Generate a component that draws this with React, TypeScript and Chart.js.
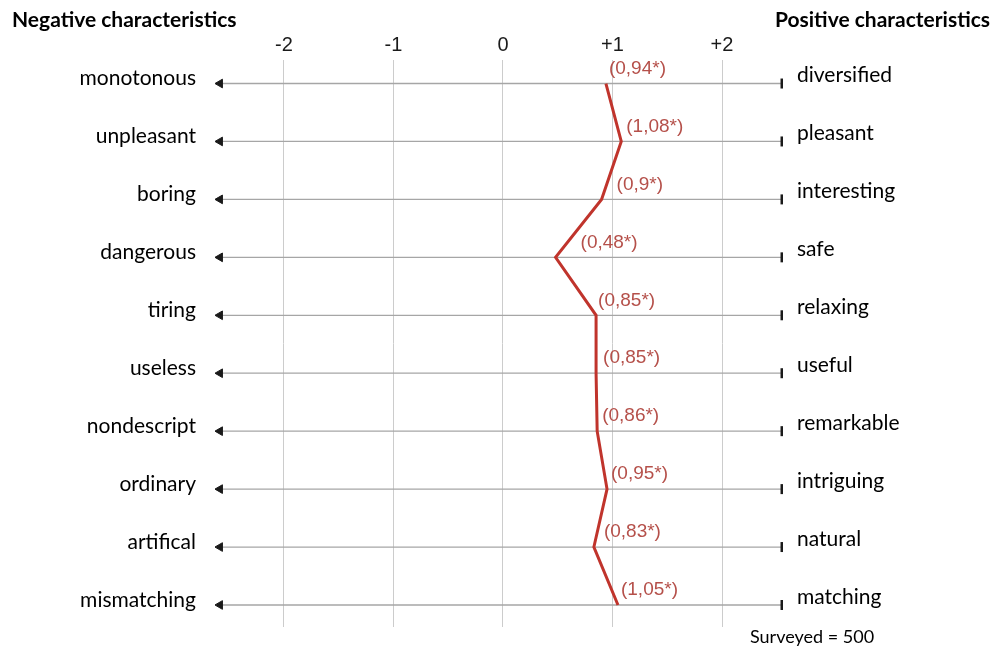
import { useEffect, useRef } from 'react';
import { Chart, registerables } from 'chart.js';

Chart.register(...registerables);

// ---------- data ----------
const negativeLabels = ['monotonous', 'unpleasant', 'boring', 'dangerous', 'tiring', 'useless', 'nondescript', 'ordinary', 'artifical', 'mismatching'];
const positiveLabels = ['diversified', 'pleasant', 'interesting', 'safe', 'relaxing', 'useful', 'remarkable', 'intriguing', 'natural', 'matching'];
const meanValues = [0.94, 1.08, 0.9, 0.48, 0.85, 0.85, 0.86, 0.95, 0.83, 1.05];
const valueLabels = ['(0,94*)', '(1,08*)', '(0,9*)', '(0,48*)', '(0,85*)', '(0,85*)', '(0,86*)', '(0,95*)', '(0,83*)', '(1,05*)'];
const scaleTicks = [-2, -1, 0, 1, 2];
const scaleTickLabels = ['-2', '-1', '0', '+1', '+2'];
const leftTitle = 'Negative characteristics';
const rightTitle = 'Positive characteristics';
const footnote = 'Surveyed = 500';

// ---------- layout (not data) ----------
const X_MIN = -2.63;
const X_MAX = 2.557;
const ARROW_X = -2.585;
const END_X = 2.548;
const Y_MIN = -0.406;
const Y_MAX = 9.38;
const LEFT_LABEL_SHIFT = 0.086;
const RIGHT_LABEL_SHIFT = 0.138;
const labelDx = [3, 5, 15, 25, 2, 7, 5, 4, 10, 3];
const labelDy = -15;

const rowIdx = negativeLabels.map((_, i) => i);

const annotationPlugin = {
  id: 'annotations',
  afterDatasetsDraw(chart: any) {
    const ctx = chart.ctx;
    const meta = chart.getDatasetMeta(0);
    ctx.save();
    ctx.font = '19px "Liberation Sans", Arial, sans-serif';
    ctx.fillStyle = '#b5504a';
    ctx.textAlign = 'left';
    ctx.textBaseline = 'middle';
    meta.data.forEach((pt: any, i: number) => {
      ctx.fillText(valueLabels[i], pt.x + labelDx[i], pt.y + labelDy);
    });
    ctx.restore();
  },
  afterDraw(chart: any) {
    const ctx = chart.ctx;
    ctx.save();
    ctx.fillStyle = '#000';
    ctx.textBaseline = 'middle';
    ctx.font = 'bold 21px Lato, "Noto Sans", sans-serif';
    ctx.textAlign = 'left';
    ctx.fillText(leftTitle, 12, 20);
    ctx.textAlign = 'right';
    ctx.fillText(rightTitle, 990, 20);
    ctx.font = '18px Lato, "Noto Sans", sans-serif';
    ctx.textAlign = 'left';
    ctx.fillText(footnote, 750, 637);
    ctx.restore();
  },
};

export default function App() {
  const canvasRef = useRef<HTMLCanvasElement | null>(null);

  useEffect(() => {
    document.body.style.margin = '0';
    const canvas = canvasRef.current;
    if (!canvas) return;

    const rowDatasets = rowIdx.map((i) => ({
      data: [
        { x: ARROW_X, y: i },
        { x: END_X, y: i },
      ],
      borderColor: '#a6a6a6',
      borderWidth: 1.3,
      pointStyle: ['triangle', 'line'],
      rotation: [-90, 90],
      pointRadius: [5, 5],
      pointBorderWidth: [1, 3],
      pointBackgroundColor: '#1a1a1a',
      pointBorderColor: '#1a1a1a',
      tension: 0,
      yAxisID: 'y',
    }));

    const fitLabelAxis = (width: number) => (axis: any) => {
      axis.width = width;
      axis.paddingTop = 0;
      axis.paddingBottom = 0;
    };

    const chart = new Chart(canvas, {
      type: 'line',
      data: {
        datasets: [
          {
            data: meanValues.map((v, i) => ({ x: v, y: i })),
            borderColor: '#c0342c',
            borderWidth: 3,
            pointRadius: 0,
            tension: 0,
            yAxisID: 'y',
          },
          ...rowDatasets,
        ] as any,
      },
      options: {
        animation: false,
        responsive: false,
        maintainAspectRatio: false,
        layout: { padding: { left: 0, right: 0, top: 0, bottom: 26 } },
        plugins: {
          legend: { display: false },
          tooltip: { enabled: false },
          title: { display: false },
        },
        scales: {
          x: {
            type: 'linear',
            position: 'top',
            min: X_MIN,
            max: X_MAX,
            afterBuildTicks: (axis: any) => {
              axis.ticks = scaleTicks.map((v) => ({ value: v }));
            },
            afterFit: (axis: any) => {
              axis.height = 60;
            },
            border: { display: false },
            grid: { color: '#cccccc', lineWidth: 1, drawTicks: false },
            ticks: {
              padding: 3,
              color: '#1a1a1a',
              font: { family: '"Liberation Sans", Arial, sans-serif', size: 20 },
              callback: (v: any) => {
                const k = scaleTicks.indexOf(Number(v));
                return k >= 0 ? scaleTickLabels[k] : '';
              },
            },
          },
          y: {
            type: 'linear',
            display: false,
            reverse: true,
            min: Y_MIN,
            max: Y_MAX,
          },
          yL: {
            type: 'linear',
            position: 'left',
            reverse: true,
            min: Y_MIN + LEFT_LABEL_SHIFT,
            max: Y_MAX + LEFT_LABEL_SHIFT,
            afterBuildTicks: (axis: any) => {
              axis.ticks = rowIdx.map((v) => ({ value: v }));
            },
            afterFit: fitLabelAxis(215),
            border: { display: false },
            grid: { display: false, drawTicks: false },
            ticks: {
              padding: 19,
              color: '#000',
              font: { family: 'Lato, "Noto Sans", sans-serif', size: 21 },
              callback: (v: any) => negativeLabels[Number(v)] ?? '',
            },
          },
          yR: {
            type: 'linear',
            position: 'right',
            reverse: true,
            min: Y_MIN + RIGHT_LABEL_SHIFT,
            max: Y_MAX + RIGHT_LABEL_SHIFT,
            afterBuildTicks: (axis: any) => {
              axis.ticks = rowIdx.map((v) => ({ value: v }));
            },
            afterFit: fitLabelAxis(222),
            border: { display: false },
            grid: { display: false, drawTicks: false },
            ticks: {
              padding: 14,
              color: '#000',
              font: { family: 'Lato, "Noto Sans", sans-serif', size: 21 },
              callback: (v: any) => positiveLabels[Number(v)] ?? '',
            },
          },
        },
      } as any,
      plugins: [annotationPlugin],
    });

    return () => chart.destroy();
  }, []);

  return (
    <div style={{ width: 1005, height: 653, background: '#fff' }}>
      <canvas ref={canvasRef} width={1005} height={653} style={{ width: 1005, height: 653, display: 'block' }} />
    </div>
  );
}
